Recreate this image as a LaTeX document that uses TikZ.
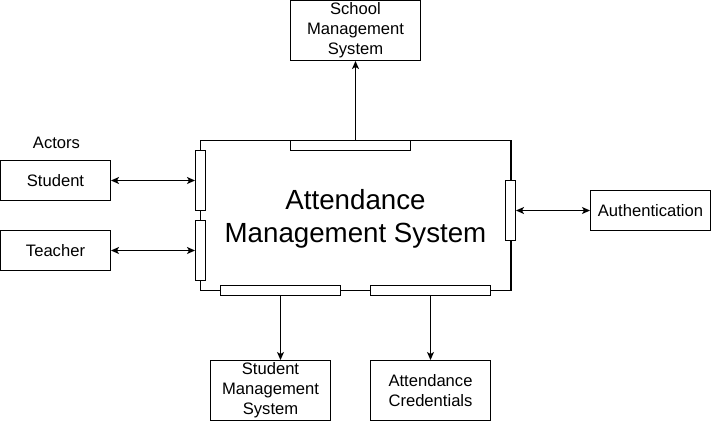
\documentclass[tikz,border=0pt]{standalone}
\usepackage{fontspec}
\setmainfont{Liberation Sans}
\usetikzlibrary{arrows.meta}
\begin{document}
\begin{tikzpicture}[x=1pt,y=-1pt,
  line width=1pt,
  box/.style={draw=black, fill=white, inner sep=0pt, align=center,
    font=\fontsize{16.6}{19.9}\selectfont},
  port/.style={draw=black, fill=white, inner sep=0pt},
  hport/.style={port, minimum width=120pt, minimum height=10pt},
  vport/.style={port, minimum width=10pt, minimum height=60pt},
  conn/.style={draw=black, line width=1pt,
    arrows={-Stealth[length=8pt,width=7pt,inset=2pt]}},
  bconn/.style={draw=black, line width=1pt,
    arrows={Stealth[length=8pt,width=7pt,inset=2pt]-Stealth[length=8pt,width=7pt,inset=2pt]}}
]
\useasboundingbox (-0.5,-0.5) rectangle (710.5,420.5);

% main system
\node[draw=black, minimum width=310pt, minimum height=150pt, inner sep=0pt,
  label={[name=maintext, inner sep=0pt, align=center, yshift=-3pt,
    font=\fontsize{27.7}{33.2}\selectfont]center:{Attendance\\Management System}}] (main) at (355,215) {};
\draw[line width=1.8pt] (main.north east) -- (main.south east);

% ports
\node[hport] (ptop) at (350,145) {};
\node[vport] (pl1) at (200,180) {};
\node[vport] (pl2) at (200,250) {};
\node[vport] (pr) at (510,210) {};
\node[hport] (pb1) at (280,290) {};
\node[hport] (pb2) at (430,290) {};

% external boxes
\node[box, minimum width=130pt, minimum height=60pt] (school) at (355,30) {School\\Management\\System};
\node[box, minimum width=110pt, minimum height=40pt] (student) at (55,180) {Student};
\node[box, minimum width=110pt, minimum height=40pt] (teacher) at (55,250) {Teacher};
\node[box, minimum width=120pt, minimum height=40pt] (auth) at (650,210) {Authentication};
\node[box, minimum width=120pt, minimum height=60pt] (sms) at (270,390) {Student\\Management\\System};
\node[box, minimum width=120pt, minimum height=60pt] (ac) at (430,390) {Attendance\\Credentials};

\node[inner sep=0pt, font=\fontsize{16.6}{19.9}\selectfont] (actors) at (56,142) {Actors};

% connectors
\draw[conn] (school.south |- main.north) -- (school.south);
\draw[bconn] (student.east) -- (pl1.west);
\draw[bconn] (teacher.east) -- (pl2.west);
\draw[bconn] (pr.east) -- (auth.west);
\draw[conn] (pb1.south) -- (pb1.south |- sms.north);
\draw[conn] (pb2.south) -- (ac.north);
\end{tikzpicture}
\end{document}
